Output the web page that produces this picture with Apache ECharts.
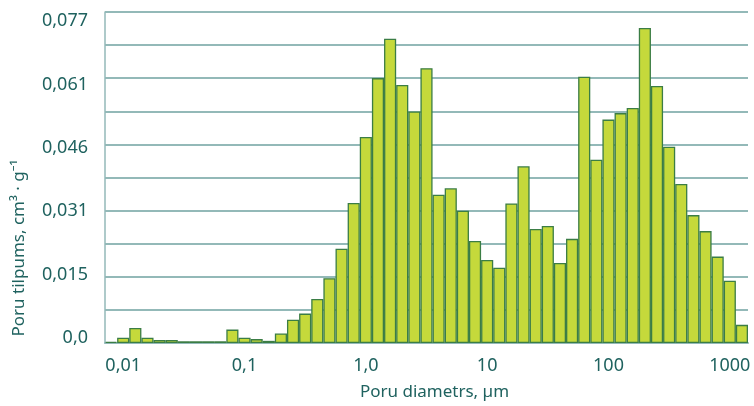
<!DOCTYPE html>
<html>
<head>
<meta charset="utf-8">
<script src="https://cdn.jsdelivr.net/npm/echarts@6/dist/echarts.min.js"></script>
<style>html,body{margin:0;padding:0;background:#fff}#c{width:754px;height:406px}</style>
</head>
<body>
<div id="c"></div>
<script>
// Pore diameters (µm), bar centres, 10 bins per decade
const diameters = [0.008, 0.01, 0.0125, 0.016, 0.02, 0.025, 0.0315, 0.04, 0.05, 0.063,
  0.08, 0.1, 0.125, 0.16, 0.2, 0.25, 0.315, 0.4, 0.5, 0.63,
  0.8, 1, 1.25, 1.6, 2, 2.5, 3.15, 4, 5, 6.3,
  8, 10, 12.5, 16, 20, 25, 31.5, 40, 50, 63,
  80, 100, 125, 160, 200, 250, 315, 400, 500, 630,
  800, 1000, 1250];
// Pore volume, cm3/g
const volumes = [0.0003, 0.0012, 0.0035, 0.0012, 0.0007, 0.0007, 0.0004, 0.0004, 0.0004, 0.0004,
  0.0031, 0.0012, 0.0009, 0.0005, 0.0022, 0.0054, 0.0068, 0.0102, 0.0150, 0.0218,
  0.0324, 0.0477, 0.0613, 0.0704, 0.0597, 0.0536, 0.0636, 0.0343, 0.0358, 0.0306,
  0.0236, 0.0192, 0.0174, 0.0323, 0.0409, 0.0264, 0.0271, 0.0185, 0.0241, 0.0616,
  0.0424, 0.0517, 0.0532, 0.0544, 0.0729, 0.0595, 0.0454, 0.0368, 0.0296, 0.0259,
  0.0200, 0.0144, 0.0042];
// x tick labels at decade diameters
const xTickValues = [0.01, 0.1, 1, 10, 100, 1000];
const xTickLabels = ['0,01', '0,1', '1,0', '10', '100', '1000'];
// y tick labels
const yTickLabels = ['0,0', '0,015', '0,031', '0,046', '0,061', '0,077'];
const yMax = 0.0766;
const yStep = 0.00766;

const textColor = '#1f625f';
const gridColor = '#93b9b8';
const font = '"Noto Sans", sans-serif';

// label positions as in the reference (evenly spread from bottom to top)
const yLabelStart = 0.0012, yLabelStep = 0.01466;
const yLabelValues = yTickLabels.map((_, i) => yLabelStart + i * yLabelStep);

const chart = echarts.init(document.getElementById('c'), null, {renderer: 'canvas'});
chart.setOption({
  animation: false,
  grid: {left: 105, right: 6, top: 12, bottom: 62.7, containLabel: false},
  xAxis: {
    type: 'category',
    data: diameters.map(String),
    boundaryGap: true,
    axisLine: {show: true, lineStyle: {color: gridColor, width: 2}},
    axisTick: {show: false},
    axisLabel: {
      interval: (i, v) => xTickValues.indexOf(Number(v)) >= 0,
      formatter: v => xTickLabels[xTickValues.indexOf(Number(v))] || '',
      color: textColor, fontSize: 18, fontFamily: font, margin: 14
    },
    name: 'Poru diametrs, µm',
    nameLocation: 'middle',
    nameGap: 41,
    nameTextStyle: {color: textColor, fontSize: 17, fontFamily: font, padding: [0, 0, 0, 16]}
  },
  yAxis: {
    type: 'value',
    min: 0, max: yMax, interval: yStep,
    axisLine: {show: true, lineStyle: {color: gridColor, width: 1.5}},
    axisTick: {show: false},
    splitLine: {show: true, lineStyle: {color: gridColor, width: 2}},
    axisLabel: {
      customValues: yLabelValues,
      formatter: v => {
        const i = Math.round((v - yLabelStart) / yLabelStep);
        return yTickLabels[i] || '';
      },
      color: textColor, fontSize: 18, fontFamily: font, margin: 17
    }
  },
  graphic: [{
    type: 'text',
    x: 19, y: 248,
    rotation: Math.PI / 2,
    style: {
      text: 'Poru tilpums, cm³ · g⁻¹',
      fill: textColor,
      font: '17px ' + font,
      align: 'center',
      verticalAlign: 'middle'
    }
  }],
  series: [{
    type: 'bar',
    data: volumes,
    barCategoryGap: 0,
    itemStyle: {color: '#c5d93b', borderColor: '#3b7d45', borderWidth: 1.3}
  }]
});
</script>
</body>
</html>
